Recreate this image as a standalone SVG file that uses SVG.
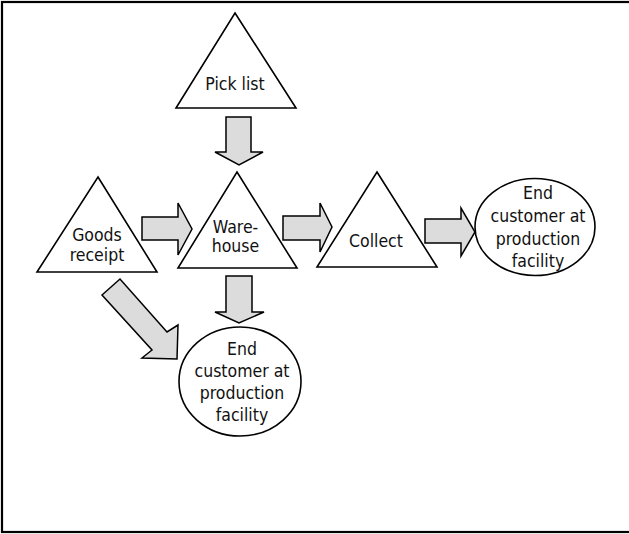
<svg xmlns="http://www.w3.org/2000/svg" width="629" height="534" viewBox="0 0 629 534">
  <style>
    .frame { fill: #ffffff; stroke: #000000; stroke-width: 2.2; }
    .tri { fill: #ffffff; stroke: #000000; stroke-width: 1.6; stroke-linejoin: miter; }
    .ell { fill: #ffffff; stroke: #000000; stroke-width: 1.6; }
    .arrow { fill: #dcdcdc; stroke: #000000; stroke-width: 1.5; stroke-linejoin: miter; }
    .label { font-family: "DejaVu Sans Condensed", "DejaVu Sans", sans-serif; font-stretch: condensed; font-size: 17.5px; fill: #111111; text-anchor: middle; }
  </style>

  <!-- outer frame (right edge runs past the canvas) -->
  <rect class="frame" x="2" y="2" width="640" height="530"/>

  <!-- flow arrows -->
  <g id="connectors">
    <polygon class="arrow" points="226,117 251,117 251,152 263,152 239,165 215,152 226,152"/>
    <polygon class="arrow" points="142,217 178,217 178,203 192,229 178,255 178,240 142,240"/>
    <polygon class="arrow" points="283,216 320,216 320,203 332,227 320,252 320,240 283,240"/>
    <polygon class="arrow" points="425,219 461,219 461,208 475,232 461,256 461,243 425,243"/>
    <polygon class="arrow" points="102,295 120,279 167,332 178,325 177,359 142,358 152,350"/>
    <polygon class="arrow" points="226,276 252,276 252,312 264,312 239,323 215,312 226,312"/>
  </g>

  <g id="pick-list">
    <polygon class="tri" points="235,13 296,108 176,108"/>
    <text class="label" x="235" y="90">Pick list</text>
  </g>

  <g id="goods-receipt">
    <polygon class="tri" points="98,177 157,272 37,272"/>
    <text class="label" x="97" y="241">Goods</text>
    <text class="label" x="97" y="261">receipt</text>
  </g>

  <g id="warehouse">
    <polygon class="tri" points="237,172 297,268 178,268"/>
    <text class="label" x="235.5" y="233">Ware-</text>
    <text class="label" x="235.5" y="252">house</text>
  </g>

  <g id="collect">
    <polygon class="tri" points="377,172 437,267 317,267"/>
    <text class="label" x="376" y="247">Collect</text>
  </g>

  <g id="end-customer-right">
    <ellipse class="ell" cx="535" cy="227" rx="60" ry="48.5"/>
    <text class="label" x="538" y="199">End</text>
    <text class="label" x="538" y="222">customer at</text>
    <text class="label" x="538" y="245">production</text>
    <text class="label" x="538" y="267">facility</text>
  </g>

  <g id="end-customer-bottom">
    <ellipse class="ell" cx="240" cy="381.5" rx="61" ry="54.5"/>
    <text class="label" x="242" y="355">End</text>
    <text class="label" x="242" y="377">customer at</text>
    <text class="label" x="242" y="399">production</text>
    <text class="label" x="242" y="421">facility</text>
  </g>
</svg>
